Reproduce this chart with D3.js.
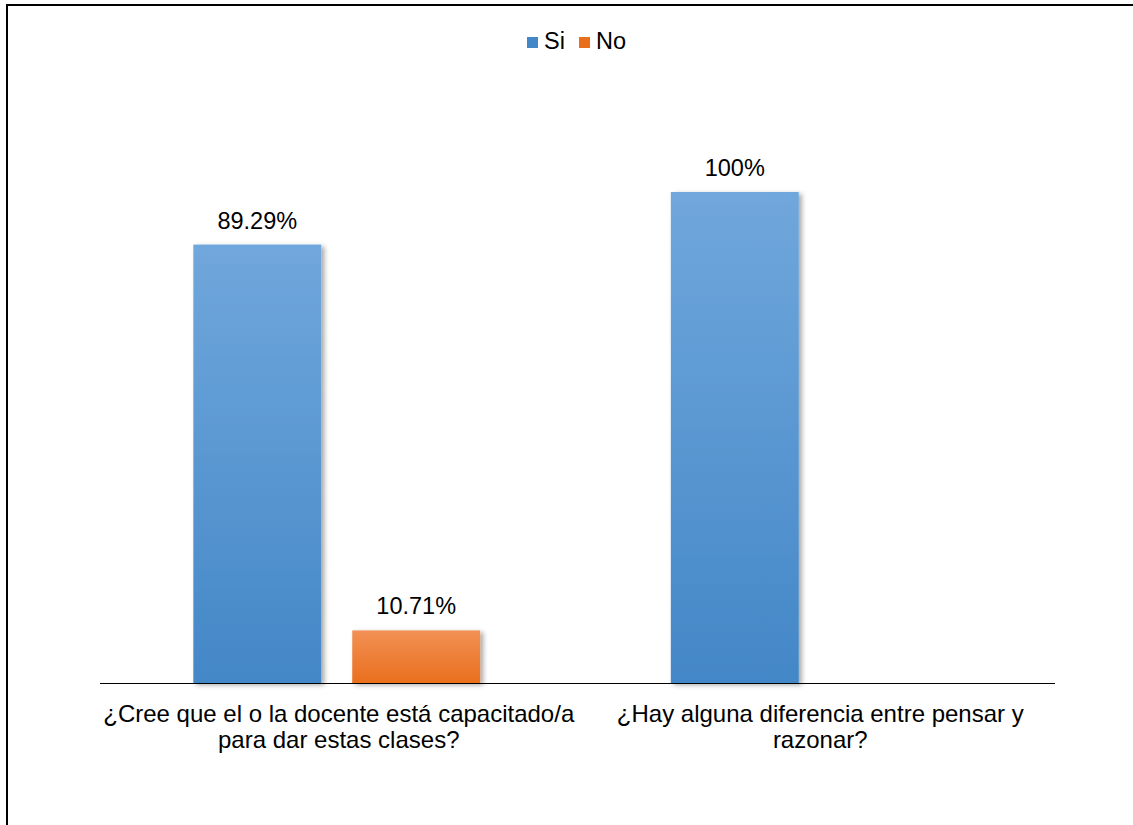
<!DOCTYPE html>
<html>
<head>
<meta charset="utf-8">
<script src="https://cdn.jsdelivr.net/npm/d3@7"></script>
<style>
  body { margin: 0; background: #fff; }
  text { font-family: "Liberation Sans", Arial, sans-serif; fill: #000; }
</style>
</head>
<body>
<div id="chart"></div>
<script>
const categories = [
  ["¿Cree que el o la docente está capacitado/a", "para dar estas clases?"],
  ["¿Hay alguna diferencia entre pensar y", "razonar?"]
]
const seriesNames = ["Si", "No"]
const siValues = [89.29, 100]
const noValues = [10.71, null]

const width = 1133
const height = 825
const margin = { top: 192, left: 100, bottom: 142, right: 78 }
const iwidth = width - margin.left - margin.right
const iheight = height - margin.top - margin.bottom

const colors = { Si: ["#70a7dc", "#4387c7"], No: ["#f29155", "#e96f1d"] }

const svg = d3.select("#chart").append("svg")
  .attr("width", width)
  .attr("height", height)

const defs = svg.append("defs")
seriesNames.forEach(s => {
  const lg = defs.append("linearGradient")
    .attr("id", "grad" + s)
    .attr("x1", 0).attr("y1", 0).attr("x2", 0).attr("y2", 1)
  lg.append("stop").attr("offset", "0%").attr("stop-color", colors[s][0])
  lg.append("stop").attr("offset", "100%").attr("stop-color", colors[s][1])
})
const f = defs.append("filter").attr("id", "shadow")
  .attr("x", "-10%").attr("y", "-10%").attr("width", "130%").attr("height", "130%")
f.append("feDropShadow").attr("dx", 3).attr("dy", 2).attr("stdDeviation", 2.5)
  .attr("flood-color", "#000").attr("flood-opacity", 0.35)

// outer frame
svg.append("path")
  .attr("d", `M7,${height + 5} V5 H${width + 5}`)
  .attr("fill", "none").attr("stroke", "#000").attr("stroke-width", 2)

const g = svg.append("g").attr("transform", `translate(${margin.left},${margin.top})`)

const x0 = d3.scaleBand()
  .domain(d3.range(categories.length))
  .range([0, iwidth])

const x1 = d3.scaleBand()
  .domain(seriesNames)
  .range([-2, x0.bandwidth() - 2])
  .paddingInner(0.195)
  .paddingOuter(0.6)

const y = d3.scaleLinear()
  .domain([0, 100])
  .range([iheight, 0])

const data = []
categories.forEach((c, i) => {
  data.push({ cat: i, s: "Si", v: siValues[i] })
  if (noValues[i] != null) data.push({ cat: i, s: "No", v: noValues[i] })
})

const fmt = v => (Number.isInteger(v) ? v : v.toFixed(2)) + "%"

g.selectAll("rect.bar").data(data).enter().append("rect")
  .attr("class", "bar")
  .attr("x", d => x0(d.cat) + x1(d.s))
  .attr("y", d => y(d.v))
  .attr("width", x1.bandwidth())
  .attr("height", d => iheight - y(d.v))
  .attr("fill", d => `url(#grad${d.s})`)
  .attr("filter", "url(#shadow)")

g.selectAll("text.val").data(data).enter().append("text")
  .attr("class", "val")
  .attr("x", d => x0(d.cat) + x1(d.s) + x1.bandwidth() / 2)
  .attr("y", d => y(d.v) - 16)
  .attr("text-anchor", "middle")
  .style("font-size", "23.5px")
  .text(d => fmt(d.v))

// x axis line
g.append("line")
  .attr("x1", 0).attr("x2", iwidth)
  .attr("y1", iheight + 0.5).attr("y2", iheight + 0.5)
  .attr("stroke", "#000").attr("stroke-width", 1)

const lab = g.selectAll("text.cat").data(categories).enter().append("text")
  .attr("class", "cat")
  .attr("text-anchor", "middle")
  .style("font-size", "24px")
lab.each(function(d, i) {
  const t = d3.select(this)
  d.forEach((line, j) => {
    t.append("tspan")
      .attr("x", x0(i) + x0.bandwidth() / 2 + (i === 1 ? 4 : 0))
      .attr("y", iheight + 39 + j * 26)
      .text(line)
  })
})

// legend
const legend = svg.append("g").attr("transform", "translate(527,33)")
const items = [{ s: "Si", x: 0 }, { s: "No", x: 52 }]
items.forEach(it => {
  legend.append("rect").attr("x", it.x).attr("y", 4).attr("width", 11).attr("height", 11)
    .attr("fill", colors[it.s][1])
  legend.append("text").attr("x", it.x + 17).attr("y", 16)
    .style("font-size", "23.5px").text(it.s)
})
</script>
</body>
</html>
